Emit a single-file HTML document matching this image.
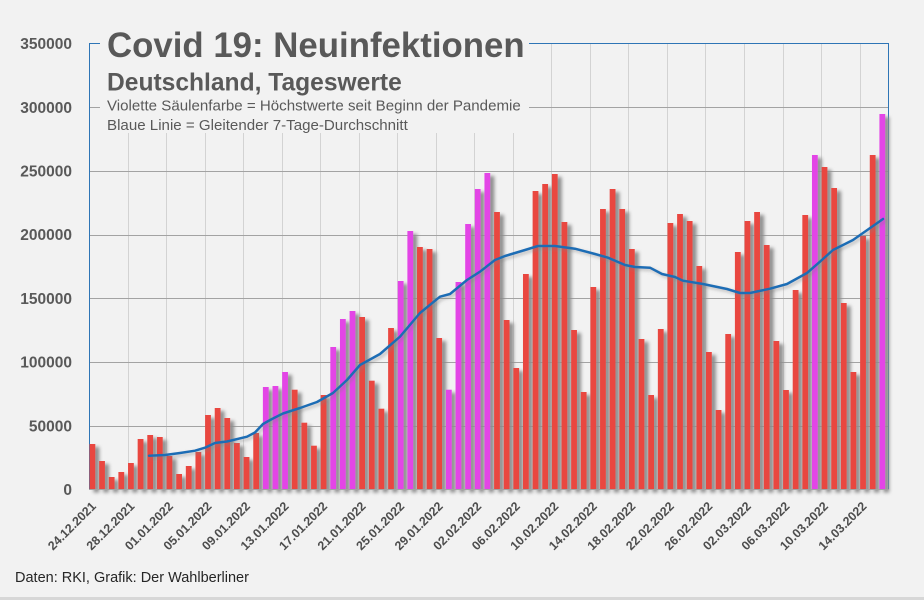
<!DOCTYPE html>
<html><head><meta charset="utf-8"><style>
html,body{margin:0;padding:0;background:#f2f2f2;}
svg{display:block;}
text{font-family:"Liberation Sans",Arial,sans-serif;}
</style></head><body>
<svg width="924" height="600" viewBox="0 0 924 600" xmlns="http://www.w3.org/2000/svg">
<defs>
<filter id="sh" x="-80%" y="-10%" width="260%" height="125%">
<feDropShadow dx="4" dy="3" stdDeviation="1.8" flood-color="#8c8c8c" flood-opacity="1"/>
</filter>
<filter id="lsh" x="-5%" y="-20%" width="110%" height="140%">
<feDropShadow dx="2" dy="2" stdDeviation="1.5" flood-color="#808080" flood-opacity="0.5"/>
</filter>
</defs>
<rect width="924" height="600" fill="#f2f2f2"/>
<rect x="0" y="597" width="924" height="3" fill="#d7d7d7"/>
<g id="vgrid" stroke="#d3d3d3" stroke-width="1"></g>
<g id="hgrid" stroke="#a3a3a3" stroke-width="1"></g>
<rect x="89.5" y="43.5" width="799" height="446" fill="none" stroke="#2e75b6" stroke-width="1"/>
<g id="bars" filter="url(#sh)"></g>
<line x1="89" y1="489.5" x2="889" y2="489.5" stroke="#a3a3a3" stroke-width="1"/>
<polyline filter="url(#lsh)" fill="none" stroke="#1f6db5" stroke-width="2.5" stroke-linejoin="round" stroke-linecap="round"
points="149,455.7 165,455 180,453 195,450.7 205,447.7 215,443 227,441.5 247,436.7 255,432.5 263,424 272,419 283,413.5 300,408 317,402 333,393 347,380 360,365 380,354 400,336.7 420,313 440,296.7 450,294 467,280 480,271.7 495,260 505,256 525,250 538,246 555,246 575,248.7 595,254 608,257.7 625,265 635,267 650,267.7 662,274 675,277 683,280.7 703,284 727,289 740,293 750,293 770,288.7 787,284 807,273 820,261.7 833,250 853,240 863,233 883,219"/>
<g id="ylab" font-size="15.5" font-weight="bold" fill="#595959" text-anchor="end"></g>
<g id="xlab" font-size="12.4" font-weight="bold" fill="#4d4d4d" text-anchor="end"></g>
<rect x="100" y="25" width="429" height="108" fill="#f2f2f2"/>
<text x="107" y="57" font-size="34.8" font-weight="bold" fill="#595959">Covid 19: Neuinfektionen</text>
<text x="107" y="90.5" font-size="24.6" font-weight="bold" fill="#595959">Deutschland, Tageswerte</text>
<text x="107" y="110.5" font-size="15.1" fill="#595959">Violette Säulenfarbe = Höchstwerte seit Beginn der Pandemie</text>
<text x="107" y="130" font-size="15.1" fill="#595959">Blaue Linie = Gleitender 7-Tage-Durchschnitt</text>
<text x="15" y="582" font-size="14.5" fill="#262626">Daten: RKI, Grafik: Der Wahlberliner</text>
</svg>
<script>
(function(){
var NS="http://www.w3.org/2000/svg";
function el(n,a,p,t){var e=document.createElementNS(NS,n);for(var k in a)e.setAttribute(k,a[k]);if(t!==undefined)e.textContent=t;p.appendChild(e);return e;}
var vg=document.getElementById('vgrid');
for(var k=1;k<=20;k++){var x=Math.round(89+38.53*k)+0.5;el('line',{x1:x,y1:43.5,x2:x,y2:489.5},vg);}
var hg=document.getElementById('hgrid'),yl=document.getElementById('ylab');
for(var k=0;k<=7;k++){var y=489.5-k*63.7;if(k>0&&k<7)el('line',{x1:89,y1:Math.round(y)+0.5,x2:889,y2:Math.round(y)+0.5},hg);
el('text',{x:72,y:(y+5.5).toFixed(1)},yl,String(k*50000));}
var tops=[444,461,477,472,463,439,435,437,456,474,466,452,415,408,418,443,457,433,387,386,372,389.7,422.7,445.7,395,347,319,311,317,380.7,408.7,328,281,231,247,249,338,389.7,282,224,189,173,212,320,368,274,191,184,174,222,330,392,287,209,189,209,249,339,395,329,223,214,221,266,352,410,334,252,221,212,245,341,390,290,215,155,167,188,303,372,236,155,114];
var vio={18:1,19:1,20:1,25:1,26:1,27:1,32:1,33:1,37:1,38:1,39:1,40:1,41:1,75:1,82:1};
var bg=document.getElementById('bars');
for(var i=0;i<tops.length;i++){var x=89.5+9.633*i;el('rect',{x:x.toFixed(2),y:tops[i],width:5.8,height:(489.5-tops[i]).toFixed(1),fill:vio[i]?'#e345e6':'#e9473f'},bg);}
var d=['24.12.2021','28.12.2021','01.01.2022','05.01.2022','09.01.2022','13.01.2022','17.01.2022','21.01.2022','25.01.2022','29.01.2022','02.02.2022','06.02.2022','10.02.2022','14.02.2022','18.02.2022','22.02.2022','26.02.2022','02.03.2022','06.03.2022','10.03.2022','14.03.2022'];
var xl=document.getElementById('xlab');
for(var j=0;j<d.length;j++){var cx=93.8+9.633*4*j+3;el('text',{x:cx.toFixed(1),y:507,transform:'rotate(-45 '+cx.toFixed(1)+' 507)'},xl,d[j]);}
})();
</script>
</body></html>
